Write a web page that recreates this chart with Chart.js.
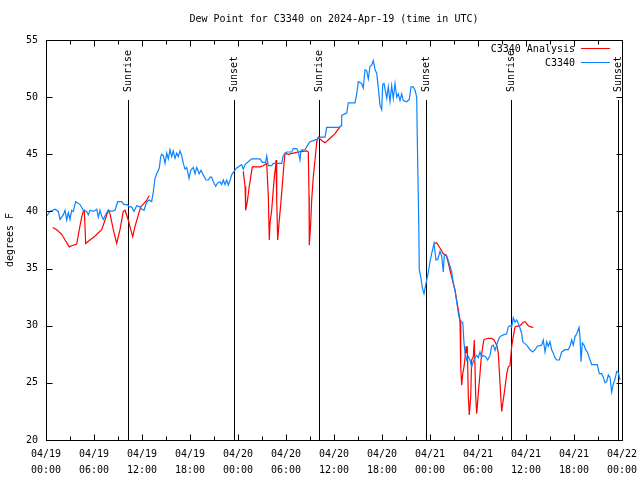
<!DOCTYPE html>
<html>
<head>
<meta charset="utf-8">
<script src="https://cdn.jsdelivr.net/npm/chart.js@4.4.1/dist/chart.umd.min.js"></script>
<style>
html,body{margin:0;padding:0;background:#fff;}
#wrap{width:640px;height:480px;}
</style>
</head>
<body>
<div id="wrap"><canvas id="c" width="640" height="480"></canvas></div>
<script>
// ---- data (hours since 2024-04-19 00:00 UTC) ----
const chartTitle = 'Dew Point for C3340 on 2024-Apr-19 (time in UTC)';
const yAxisTitle = 'degrees F';
const seriesNames = ['C3340 Analysis', 'C3340'];
const xTickDates = ['04/19','04/19','04/19','04/19','04/20','04/20','04/20','04/20','04/21','04/21','04/21','04/21','04/22'];
const xTickTimes = ['00:00','06:00','12:00','18:00','00:00','06:00','12:00','18:00','00:00','06:00','12:00','18:00','00:00'];
const eventHours = [10.29, 23.54, 34.16, 47.5, 58.13, 71.56];
const eventLabels = ['Sunrise','Sunset','Sunrise','Sunset','Sunrise','Sunset'];

const blueHours = [0.09,0.5,1.13,1.54,1.75,2.16,2.38,2.59,2.79,3.0,3.21,3.41,3.71,4.25,4.66,5.09,5.29,5.5,5.91,6.34,6.54,6.75,6.96,7.16,7.59,7.79,8.21,8.63,8.96,9.46,9.75,10.16,10.41,10.71,11.0,11.34,11.75,11.96,12.25,12.59,12.91,13.21,13.41,13.63,13.84,14.16,14.34,14.46,14.66,14.88,15.09,15.29,15.5,15.71,15.91,16.13,16.34,16.54,16.75,16.96,17.16,17.38,17.59,17.88,18.09,18.41,18.63,18.84,19.16,19.38,19.66,20.0,20.29,20.5,20.71,20.91,21.21,21.46,21.75,21.96,22.16,22.38,22.59,22.79,23.0,23.21,23.5,23.84,24.25,24.46,24.66,24.88,25.29,25.71,26.34,26.75,27.04,27.46,27.59,27.79,28.21,28.41,29.46,29.66,30.09,30.71,30.91,31.34,31.54,31.75,31.88,32.38,32.71,33.0,33.41,33.84,34.25,34.88,35.09,36.66,36.88,36.96,37.59,37.79,38.63,38.84,39.04,39.46,39.66,39.88,40.09,40.29,40.5,40.71,40.91,41.13,41.34,41.54,41.75,41.96,42.09,42.25,42.38,42.59,42.79,43.0,43.21,43.41,43.63,43.84,44.04,44.25,44.46,44.66,45.09,45.41,45.63,45.91,46.13,46.34,46.41,46.59,46.66,46.88,47.04,47.25,47.5,47.79,48.0,48.21,48.5,48.75,48.96,49.25,49.46,49.66,49.79,50.09,50.38,50.71,50.91,51.13,51.34,51.54,51.75,52.09,52.25,52.38,52.59,52.79,53.0,53.21,53.41,53.63,53.84,54.04,54.25,54.46,54.66,55.0,55.21,55.5,55.71,55.91,56.13,56.34,56.54,56.75,57.16,57.59,57.79,58.0,58.21,58.41,58.63,58.84,59.04,59.25,59.46,59.59,59.75,60.09,60.5,60.84,61.13,61.41,61.96,62.16,62.38,62.59,62.79,63.0,63.21,63.41,63.63,63.84,64.16,64.46,64.88,65.29,65.5,65.71,65.91,66.13,66.34,66.63,66.75,66.88,67.04,67.25,67.46,67.66,67.88,68.21,68.91,69.16,69.46,69.66,69.88,70.09,70.29,70.5,70.71,70.91,71.13,71.34,71.54,71.75];
const blueValues = [39.6,40.0,40.2,40.0,39.3,39.7,40.1,39.25,39.9,39.3,40.1,40.0,40.85,40.6,40.1,40.0,39.7,40.1,40.0,40.2,39.5,40.1,39.6,39.3,39.9,40.1,40.0,40.1,40.85,40.85,40.6,40.6,40.4,40.4,40.0,40.5,40.4,40.2,40.1,40.85,41.0,40.85,41.7,42.9,43.3,43.8,44.8,45.0,44.9,44.2,45.1,44.6,45.4,44.8,45.3,44.65,45.1,44.8,45.3,44.9,44.2,43.7,43.85,42.9,43.6,43.85,43.3,43.85,43.3,43.6,43.2,42.75,42.75,43.0,43.0,42.6,42.2,42.5,42.6,42.35,42.75,42.35,42.75,42.3,42.7,43.2,43.5,43.8,44.0,44.1,43.7,44.1,44.35,44.6,44.6,44.6,44.3,44.3,44.85,44.0,44.0,44.2,44.2,44.9,45.2,45.2,45.5,45.5,45.2,44.5,45.35,45.4,45.8,46.1,46.2,46.3,46.5,46.5,47.35,47.35,47.5,48.4,48.6,49.5,49.5,50.3,51.35,51.2,50.8,52.4,52.3,51.6,52.7,52.8,53.2,52.4,52.1,50.8,49.3,48.9,51.1,51.2,50.7,49.9,50.9,49.6,51.0,49.9,51.2,50.0,50.3,49.7,50.3,49.7,49.6,49.8,50.9,50.9,50.6,50.0,46.4,39.1,34.9,34.15,33.3,32.8,33.7,34.7,35.6,36.3,37.2,35.75,35.8,36.5,36.1,34.7,36.2,36.1,35.5,34.7,33.7,33.1,32.1,31.1,30.35,30.3,28.5,27.6,27.0,27.3,27.0,26.4,26.85,27.2,27.4,27.2,27.7,27.25,27.4,27.25,27.0,27.4,28.2,28.3,27.85,28.3,28.75,29.05,29.2,29.3,29.9,30.0,29.9,30.7,30.3,30.5,30.2,29.8,29.3,28.6,28.5,28.3,27.9,27.7,27.9,28.2,28.3,28.75,27.7,28.6,28.2,28.6,27.9,27.6,27.2,27.0,27.0,27.7,27.9,27.9,28.2,28.75,28.3,29.05,29.3,29.85,29.05,26.85,28.5,28.3,27.9,27.7,27.25,26.6,26.6,25.8,25.8,25.5,25.0,25.1,25.7,25.5,24.2,24.9,25.35,26.0,25.9,25.25];

// null values mark gaps where the analysis series is missing
const redHours = [0.84,1.34,1.96,2.38,2.91,3.21,3.84,4.16,4.46,4.66,4.79,4.96,5.5,6.13,6.96,7.38,7.79,8.0,8.41,8.84,9.25,9.66,9.88,10.29,10.59,10.84,11.13,11.54,11.84,12.25,12.59,12.91,
 18.0,
 24.66,24.88,24.96,25.16,25.41,25.59,25.79,26.75,27.16,27.59,27.79,27.91,28.0,28.21,28.34,28.54,28.71,28.75,28.84,28.96,29.13,29.34,29.54,29.75,29.88,30.29,30.91,31.54,32.59,32.79,32.88,32.91,33.09,33.21,33.41,33.63,33.84,34.04,34.46,34.88,35.5,36.13,36.75,
 42.0,
 48.5,48.84,49.25,49.66,50.0,50.29,50.59,50.91,51.13,51.34,51.54,51.75,51.84,51.96,52.09,52.25,52.38,52.5,52.59,52.66,52.79,52.91,53.09,53.21,53.41,53.54,53.71,53.84,54.04,54.25,54.38,54.59,54.75,55.29,55.71,56.0,56.34,56.54,56.66,56.84,56.96,57.16,57.38,57.59,57.79,58.0,58.21,58.41,58.63,58.84,59.25,59.66,59.88,60.29,60.59,60.91];
const redValues = [38.6,38.4,38.0,37.5,36.9,37.0,37.15,38.4,39.5,40.0,40.1,37.2,37.5,37.85,38.4,39.25,40.1,39.8,38.4,37.2,38.4,40.0,40.1,39.25,38.4,37.8,38.7,39.7,40.4,40.7,41.0,41.4,
 null,
 43.5,42.2,40.1,40.85,42.2,43.0,43.9,43.9,44.0,44.2,41.3,37.5,39.0,40.1,41.3,43.0,44.0,44.5,41.0,37.5,39.0,40.6,42.3,44.2,45.1,45.0,45.1,45.2,45.3,45.2,41.3,37.05,39.0,41.0,43.0,44.5,46.1,46.5,46.2,46.0,46.4,46.8,47.4,
 null,
 37.2,37.25,36.8,36.3,36.2,35.5,34.6,33.7,33.1,32.2,31.4,30.5,26.4,24.8,25.8,26.4,27.2,28.2,27.6,28.2,23.8,22.2,23.8,27.0,27.25,28.75,23.9,22.3,24.1,25.8,27.0,28.2,28.8,28.9,28.9,28.75,28.3,27.6,26.1,23.9,22.5,23.5,24.6,25.8,26.4,26.5,28.2,29.05,29.9,29.95,30.0,30.3,30.35,30.0,29.9,29.85];

const redColor = '#ff0000';
const blueColor = '#0a84ff';
const FONT = '10px "DejaVu Sans Mono", "Liberation Mono", monospace';

function pairs(xs, ys){ return xs.map((x,i)=>({x:x, y:ys[i]})); }

const overlay = {
  id: 'overlay',
  beforeDatasetsDraw(chart){
    const ctx = chart.ctx, xs = chart.scales.x, a = chart.chartArea;
    ctx.save();
    ctx.strokeStyle = '#000'; ctx.lineWidth = 1;
    ctx.font = FONT; ctx.fillStyle = '#000';
    eventHours.forEach((h,i)=>{
      const px = Math.round(xs.getPixelForValue(h)) + 0.5;
      ctx.beginPath(); ctx.moveTo(px, 100); ctx.lineTo(px, a.bottom); ctx.stroke();
      ctx.save();
      ctx.translate(px, 92);
      ctx.rotate(-Math.PI/2);
      ctx.textAlign = 'left'; ctx.textBaseline = 'middle';
      ctx.fillText(eventLabels[i], 0, 0);
      ctx.restore();
    });
    ctx.restore();
  },
  afterDatasetsDraw(chart){
    const ctx = chart.ctx, xs = chart.scales.x, ys = chart.scales.y, a = chart.chartArea;
    ctx.save();
    ctx.strokeStyle = '#000'; ctx.lineWidth = 1;
    const L = Math.round(a.left)+0.5, R = Math.round(a.right)+0.5, T = Math.round(a.top)+0.5, B = Math.round(a.bottom)+0.5;
    ctx.strokeRect(L, T, R-L, B-T);
    ctx.beginPath();
    for (let h = 0; h <= 72; h += 3){
      const px = Math.round(xs.getPixelForValue(h))+0.5;
      const len = (h % 6 === 0) ? 6 : 4;
      ctx.moveTo(px, B); ctx.lineTo(px, B-len);
      ctx.moveTo(px, T); ctx.lineTo(px, T+len);
    }
    for (let v = 20; v <= 55; v += 5){
      const py = Math.round(ys.getPixelForValue(v))+0.5;
      ctx.moveTo(L, py); ctx.lineTo(L+6, py);
      ctx.moveTo(R, py); ctx.lineTo(R-6, py);
    }
    ctx.stroke();
    ctx.font = FONT; ctx.fillStyle = '#000';
    ctx.textAlign = 'center'; ctx.textBaseline = 'middle';
    ctx.fillText(chartTitle, (a.left+a.right)/2, 19);
    ctx.save();
    ctx.translate(10, 240); ctx.rotate(-Math.PI/2);
    ctx.fillText(yAxisTitle, 0, 0);
    ctx.restore();
    const colors = [redColor, blueColor];
    const rows = [49, 63];
    seriesNames.forEach((name,i)=>{
      ctx.textAlign = 'right'; ctx.textBaseline = 'middle'; ctx.fillStyle = '#000';
      ctx.fillText(name, 575, rows[i]);
      ctx.strokeStyle = colors[i];
      ctx.beginPath(); ctx.moveTo(581, rows[i]-0.5); ctx.lineTo(610, rows[i]-0.5); ctx.stroke();
    });
    ctx.restore();
  }
};

new Chart(document.getElementById('c'), {
  type: 'line',
  data: {
    datasets: [
      { label: seriesNames[0], data: pairs(redHours, redValues), borderColor: redColor, borderWidth: 1.2,
        pointRadius: 0, tension: 0, spanGaps: false, fill: false, order: 1 },
      { label: seriesNames[1], data: pairs(blueHours, blueValues), borderColor: blueColor, borderWidth: 1.2,
        pointRadius: 0, tension: 0, spanGaps: false, fill: false, order: 0 }
    ]
  },
  options: {
    responsive: false,
    animation: false,
    devicePixelRatio: 1,
    layout: { padding: { top: 40, right: 18, left: 0, bottom: 0 } },
    plugins: { legend: { display: false }, title: { display: false }, tooltip: { enabled: false } },
    scales: {
      x: {
        type: 'linear', min: 0, max: 72,
        grid: { display: false, drawTicks: false },
        border: { display: false },
        afterFit(s){ s.height = 40; s.paddingRight = 0; },
        afterBuildTicks(s){ s.ticks = xTickDates.map((d,i)=>({ value: i*6 })); },
        ticks: {
          autoSkip: false, maxRotation: 0, minRotation: 0, padding: 6,
          color: '#000', font: { family: '"DejaVu Sans Mono", monospace', size: 10, lineHeight: 1.6 },
          callback(v){ const i = Math.round(v/6); return [xTickDates[i], xTickTimes[i]]; }
        }
      },
      y: {
        min: 20, max: 55,
        grid: { display: false, drawTicks: false },
        border: { display: false },
        afterFit(s){ s.width = 46; },
        ticks: { stepSize: 5, padding: 8, color: '#000', font: { family: '"DejaVu Sans Mono", monospace', size: 10 } }
      }
    }
  },
  plugins: [overlay]
});
</script>
</body>
</html>
